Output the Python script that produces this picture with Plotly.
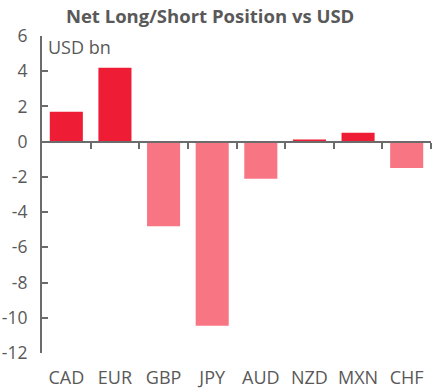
import plotly.graph_objects as go

currencies = ["CAD", "EUR", "GBP", "JPY", "AUD", "NZD", "MXN", "CHF"]
positions = [1.7, 4.2, -4.8, -10.45, -2.1, 0.12, 0.5, -1.5]
y_ticks = [6, 4, 2, 0, -2, -4, -6, -8, -10, -12]
y_tick_labels = ["6", "4", "2", "0", "-2", "-4", "-6", "-8", "-10", "-12"]
y_range = [-12, 6]

POS_COLOR = "#EE1C35"
NEG_COLOR = "#F87684"
TEXT = "#595959"
AXIS = "#6b6b6b"
FONT = "Open Sans"

colors = [POS_COLOR if v >= 0 else NEG_COLOR for v in positions]

fig = go.Figure()
fig.add_trace(go.Bar(x=currencies, y=positions, marker=dict(color=colors, line=dict(width=0)),
                     showlegend=False, hoverinfo="x+y"))

n = len(currencies)
zero_pos = (0 - y_range[0]) / (y_range[1] - y_range[0])

fig.update_layout(
    width=447, height=388,
    margin=dict(l=42, r=16, t=36, b=35, autoexpand=False),
    paper_bgcolor="white", plot_bgcolor="white",
    bargap=0.32,
    font=dict(family=FONT, color=TEXT, size=18),
    title=dict(text="<b>Net Long/Short Position vs USD</b>", x=0.47, xanchor="center",
               y=0.958, yanchor="middle", font=dict(family=FONT, size=18.5, color=TEXT)),
    xaxis=dict(type="category", showline=False, ticks="", showgrid=False, zeroline=False,
               automargin=False, tickfont=dict(size=18, color=TEXT), ticklabelstandoff=12),
    xaxis2=dict(overlaying="x", anchor="free", position=zero_pos, range=[-0.5, n - 0.5],
                showline=True, linecolor=AXIS, linewidth=2, ticks="outside", ticklen=6,
                tickwidth=2, tickcolor=AXIS, tickvals=[i + 0.5 for i in range(n)],
                showticklabels=False, showgrid=False, zeroline=False, automargin=False),
    yaxis=dict(range=y_range, tickvals=y_ticks, ticktext=y_tick_labels, showline=True,
               linecolor=AXIS, linewidth=2, automargin=False,
               ticks="inside", ticklen=6, tickwidth=2, tickcolor=AXIS, showgrid=False,
               zeroline=False, tickfont=dict(size=17.5, color=TEXT), ticklabelstandoff=9),
    annotations=[dict(text="USD bn", xref="paper", yref="paper", x=0.01, y=1.01,
                      xanchor="left", yanchor="top", showarrow=False,
                      font=dict(size=18, color=TEXT, family=FONT))],
)
# invisible trace to activate xaxis2
fig.add_trace(go.Scatter(x=[-0.5, n - 0.5], y=[0, 0], xaxis="x2", mode="lines",
                         line=dict(width=0), showlegend=False, hoverinfo="skip"))

fig.write_html("out.html", config={"displayModeBar": False},
               post_script="document.body.style.margin='0';")
